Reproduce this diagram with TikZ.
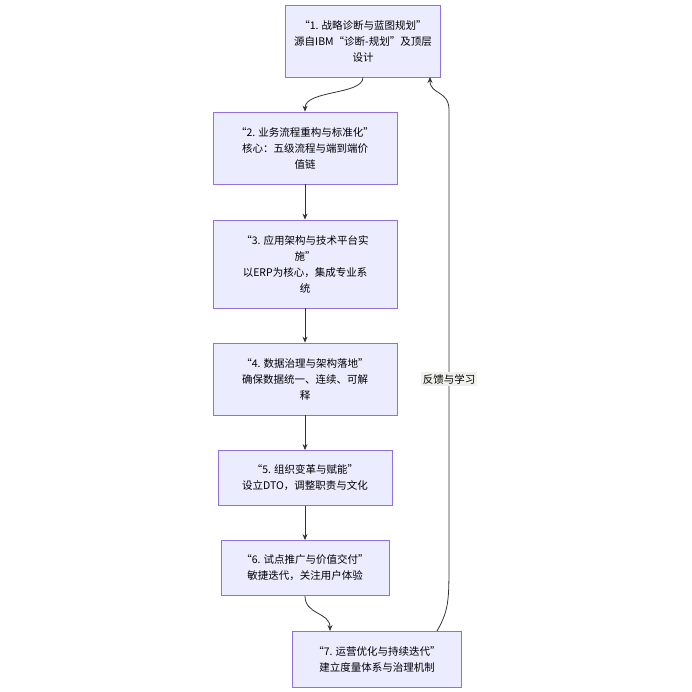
\documentclass[tikz,border=0pt]{standalone}
\usepackage{fontspec}
\setmainfont{Noto Sans CJK SC}
\usetikzlibrary{arrows.meta}
\definecolor{boxfill}{HTML}{ECECFF}
\definecolor{boxline}{HTML}{9370DB}
\definecolor{edge}{HTML}{333333}
\definecolor{labelbg}{HTML}{F0F0EC}
\tikzset{
  stage/.style={draw=boxline, fill=boxfill, line width=0.8pt, align=center,
    font=\fontsize{10.5}{16}\selectfont, inner sep=0pt},
  flow/.style={draw=edge, line width=0.8pt, -{Stealth[length=6pt,width=5pt]}},
}
\begin{document}
\begin{tikzpicture}[x=1pt,y=-1pt]
        \useasboundingbox (0,0) rectangle (692,692);
        \node[stage, minimum width=155, minimum height=72] (s1) at (363,41)
        {“1. 战略诊断与蓝图规划”\\源自IBM“诊断-规划”及顶层\\设计};
        \node[stage, minimum width=184, minimum height=72] (s2) at (305,148)
        {“2. 业务流程重构与标准化”\\核心：五级流程与端到端价\\值链};
        \node[stage, minimum width=184, minimum height=88] (s3) at (305,264)
        {“3. 应用架构与技术平台实\\施”\\以ERP为核心，集成专业系\\统};
        \node[stage, minimum width=184, minimum height=72] (s4) at (305,379)
        {“4. 数据治理与架构落地”\\确保数据统一、连续、可解\\释};
        \node[stage, minimum width=174, minimum height=55] (s5) at (305,478)
        {“5. 组织变革与赋能”\\设立DTO，调整职责与文化};
        \node[stage, minimum width=168, minimum height=55] (s6) at (305,568)
        {“6. 试点推广与价值交付”\\敏捷迭代，关注用户体验};
        \node[stage, minimum width=169, minimum height=56] (s7) at (377,659)
        {“7. 运营优化与持续迭代”\\建立度量体系与治理机制};
        \draw[flow] (s1.south) .. controls (363,95) and (305,90) .. (s2.north);
        \draw[flow] (s2) -- (s3);
        \draw[flow] (s3) -- (s4);
        \draw[flow] (s4) -- (s5);
        \draw[flow] (s5) -- (s6);
        \draw[flow] (s6.south) .. controls (305,615) and (330,612) .. (330,631);
        \draw[flow] (437,631) .. controls (449,610) and (449,600) .. (449,560)
        -- (449,110) .. controls (449,90) and (430,95) .. (430,77);
        \node[fill=labelbg, font=\fontsize{10.5}{14}\selectfont, inner sep=2pt]
        (fb) at (449,379) {反馈与学习};
\end{tikzpicture}
\end{document}
